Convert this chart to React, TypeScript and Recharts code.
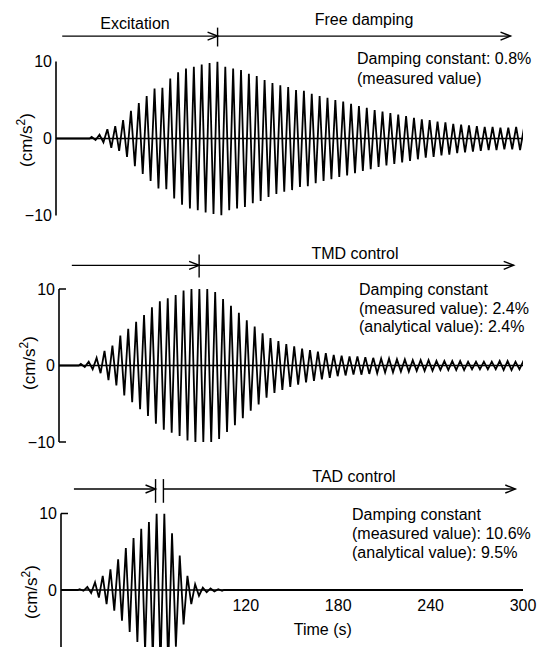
import React from 'react';
import { LineChart, Line, XAxis, YAxis, ReferenceLine, ReferenceDot } from 'recharts';

const FONT = '"Liberation Sans", Arial, sans-serif';

// Panel 1 - no control, excitation then free damping
const p1FirstPeak = 22.9; // s
const p1Period = 5.05; // s
const p1Split = 103.8; // end of excitation
const p1Amps = [
  0.2, 0.5, 1.2, 1.6, 2.4, 3.6, 4.6, 5.5, 6.5, 6.6, 7.8, 8.6, 9.1, 9.3, 9.6, 9.8, 10.0,
  9.3, 9.1, 8.9, 8.4, 8.1, 7.6, 7.2, 6.9, 6.7, 6.3, 6.2, 5.8, 5.5, 5.3, 5.0, 4.8, 4.5,
  4.2, 4.0, 3.7, 3.5, 3.3, 3.1, 2.9, 2.7, 2.5, 2.4, 2.2, 2.1, 1.9, 1.8, 1.7, 1.6, 1.5,
  1.5, 1.4, 1.4, 1.5, 1.4,
];

// Panel 2 - TMD control
const p2FirstPeak = 14.1;
const p2Period = 5.11;
const p2Split = 90.6;
const p2Amps = [
  0.2, 0.5, 1.0, 1.9, 2.6, 3.9, 4.8, 5.7, 6.6, 7.6, 8.4, 8.8, 9.2, 9.8, 10.0, 10.0,
  10.0, 9.6, 8.7, 7.8, 6.9, 5.9, 5.1, 4.2, 3.6, 3.2, 2.8, 2.5, 2.2, 2.0, 1.8, 1.6, 1.4,
  1.3, 1.2, 1.2, 1.1, 1.0, 0.9, 0.9, 0.8, 0.8, 0.7, 0.7, 0.7, 0.6, 0.6, 0.6, 0.6, 0.5,
  0.5, 0.5, 0.5, 0.6, 0.6, 0.5, 0.6,
];

// Panel 3 - TAD control
const p3FirstPeak = 12.1;
const p3Period = 5.0;
const p3Splits = [61.4, 66.5];
const p3Amps = [0.1, 0.4, 1.0, 1.85, 2.7, 4.0, 5.5, 6.8, 8.0, 8.9, 10.0, 10.0, 7.4, 4.5, 1.85, 0.75, 0.3, 0.2, 0.1];

const timeTicks = [120, 180, 240, 300];
const yTicks = [-10, 0, 10];
const yTicksCut = [0, 10]; // bottom panel is cropped below

// peak list -> alternating peak / trough points
function toSeries(first: number, period: number, amps: number[]) {
  const pts: { t: number; v: number }[] = [{ t: 0, v: 0 }, { t: first - period / 4, v: 0 }];
  amps.forEach((a, i) => {
    const tc = first + i * period;
    pts.push({ t: tc, v: a });
    pts.push({ t: tc + period / 2, v: -a });
  });
  const end = first + (amps.length - 1) * period + (3 * period) / 4;
  pts.push({ t: end, v: 0 });
  if (end < 300) pts.push({ t: 300, v: 0 });
  return pts;
}

const p1Data = toSeries(p1FirstPeak, p1Period, p1Amps);
const p2Data = toSeries(p2FirstPeak, p2Period, p2Amps);
const p3Data = toSeries(p3FirstPeak, p3Period, p3Amps);

const Arrow = (p: any) => {
  const { x1, y1, x2, y2 } = p;
  return (
    <g>
      <line x1={x1} y1={y1} x2={x2} y2={y2} stroke="#000" strokeWidth={1.3} />
      <path d={`M${x2 - 10},${y2 - 4} L${x2},${y2} L${x2 - 10},${y2 + 4}`} fill="none" stroke="#000" strokeWidth={1.4} />
    </g>
  );
};

const makeTick = (marks: number[], gap: number) => (props: any) => {
  const { x, y, payload } = props;
  const v = payload.value;
  const ax = x + gap;
  return (
    <g>
      <text x={x} y={y} dy="0.36em" textAnchor="end" fontSize={16} fontFamily={FONT} fill="#000">
        {v < 0 ? '\u2212' + Math.abs(v) : v}
      </text>
      {marks.includes(v) && <line x1={ax} x2={ax + 7} y1={y} y2={y} stroke="#000" strokeWidth={1.5} />}
    </g>
  );
};

const Panel = ({ data, top, margin, axisW, marks, ticks, children }: any) => (
  <div style={{ position: 'absolute', left: 0, top }}>
    <LineChart width={552} height={230} data={data} margin={{ ...margin, left: 0, right: 29 }}>
      <XAxis dataKey="t" type="number" domain={[0, 300]} allowDataOverflow hide />
      <YAxis
        type="number"
        domain={[-10, 10]}
        ticks={ticks}
        allowDataOverflow
        width={axisW}
        tickSize={0}
        tickMargin={4}
        tickLine={false}
        axisLine={{ stroke: '#000', strokeWidth: 1.6 }}
        tick={makeTick(marks, 4)}
      />
      <ReferenceLine y={0} stroke="#000" strokeWidth={1.6} />
      {children}
      <Line type="linear" dataKey="v" stroke="#000" strokeWidth={1.8} dot={false} isAnimationActive={false} />
    </LineChart>
  </div>
);

const arrowSet = (from: number, splits: number[], to: number, y: number, tickTop: number, tickBottom: number) => [
  <ReferenceLine key="a1" segment={[{ x: from, y }, { x: splits[0], y }]} ifOverflow="visible" shape={Arrow} />,
  <ReferenceLine key="a2" segment={[{ x: splits[splits.length - 1], y }, { x: to, y }]} ifOverflow="visible" shape={Arrow} />,
  ...splits.map((s, i) => (
    <ReferenceLine key={'s' + i} segment={[{ x: s, y: tickTop }, { x: s, y: tickBottom }]} ifOverflow="visible" stroke="#000" strokeWidth={1.4} />
  )),
];

const YLabel = ({ cx, cy }: { cx: number; cy: number }) => (
  <div
    style={{
      position: 'absolute',
      left: cx,
      top: cy,
      transform: 'translate(-50%, -50%) rotate(-90deg)',
      fontFamily: FONT,
      fontSize: 17,
      whiteSpace: 'nowrap',
      lineHeight: 1,
    }}
  >
    (cm/s<sup style={{ fontSize: 12 }}>2</sup>)
  </div>
);

const T = ({ x, y, anchor = 'start', children }: any) => (
  <text x={x} y={y} textAnchor={anchor} fontSize={16} fontFamily={FONT} fill="#000">
    {children}
  </text>
);

export default function App() {
  return (
    <div style={{ position: 'absolute', left: 0, top: 0, width: 552, height: 647, overflow: 'hidden', background: '#fff' }}>
      <Panel data={p1Data} top={0} margin={{ top: 61.5, bottom: 14.5 }} axisW={56} marks={[]} ticks={yTicks}>
        {arrowSet(4, [p1Split], 292, 13.3, 14.4, 11.95)}
      </Panel>
      <Panel data={p2Data} top={230} margin={{ top: 59, bottom: 18 }} axisW={59} marks={[10, -10]} ticks={yTicks}>
        {arrowSet(8.3, [p2Split], 294, 13.1, 14.5, 11.5)}
      </Panel>
      <Panel data={p3Data} top={460} margin={{ top: 53.5, bottom: 23.5 }} axisW={61} marks={[10]} ticks={yTicksCut}>
        {arrowSet(8.4, p3Splits, 295, 13.2, 14.5, 11.4)}
        {timeTicks.map((v) => (
          <ReferenceDot
            key={v}
            x={v}
            y={-1.95}
            r={0}
            fill="none"
            stroke="none"
            ifOverflow="visible"
            label={{ value: String(v), position: 'center', fontSize: 16, fontFamily: FONT, fill: '#000' }}
          />
        ))}
        <ReferenceDot
          x={170}
          y={-5.2}
          r={0}
          fill="none"
          stroke="none"
          ifOverflow="visible"
          label={{ value: 'Time  (s)', position: 'center', fontSize: 16, fontFamily: FONT, fill: '#000' }}
        />
      </Panel>

      <YLabel cx={25} cy={140} />
      <YLabel cx={28} cy={363} />
      <YLabel cx={30} cy={592} />

      <svg width={552} height={647} style={{ position: 'absolute', left: 0, top: 0, pointerEvents: 'none' }}>
        <T x={135} y={29} anchor="middle">Excitation</T>
        <T x={364} y={25} anchor="middle">Free damping</T>
        <T x={357} y={64}>Damping constant: 0.8%</T>
        <T x={357} y={84}>(measured value)</T>

        <T x={355} y={259} anchor="middle">TMD control</T>
        <T x={359} y={295}>Damping constant</T>
        <T x={359} y={313.5}>(measured value): 2.4%</T>
        <T x={359} y={332}>(analytical value): 2.4%</T>

        <T x={354} y={482} anchor="middle">TAD control</T>
        <T x={352} y={520}>Damping constant</T>
        <T x={352} y={539}>(measured value): 10.6%</T>
        <T x={352} y={558}>(analytical value): 9.5%</T>
      </svg>
    </div>
  );
}
